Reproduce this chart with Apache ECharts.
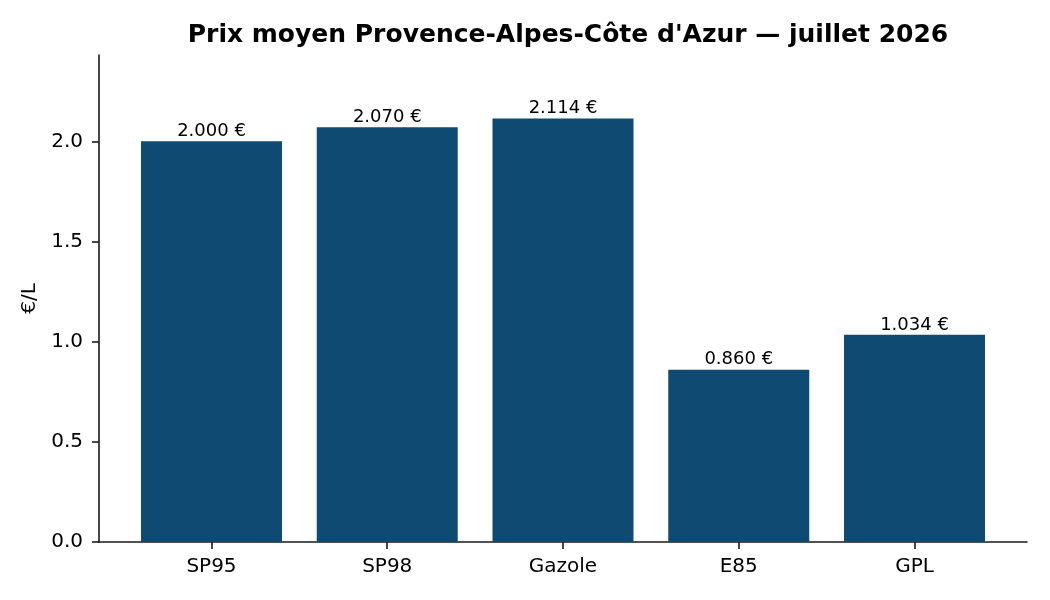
<!DOCTYPE html>
<html><head><meta charset="utf-8">
<script src="https://cdn.jsdelivr.net/npm/echarts@6/dist/echarts.min.js"></script>
<style>html,body{margin:0;padding:0;background:#fff}#c{width:1050px;height:600px}</style>
</head><body><div id="c"></div>
<script>
const categories = ["SP95", "SP98", "Gazole", "E85", "GPL"];
const prices = [2.000, 2.070, 2.114, 0.860, 1.034];
const yTicks = [0, 0.5, 1.0, 1.5, 2.0];
const titleText = "Prix moyen Provence-Alpes-Côte d'Azur — juillet 2026";

const F = "DejaVu Sans";
const chart = echarts.init(document.getElementById('c'));
chart.setOption({
  animation: false,
  backgroundColor: '#fff',
  title: { text: titleText, left: 563, top: 18, textAlign: 'center',
    textStyle: { fontFamily: F, fontWeight: 'bold', fontSize: 25, color: '#000' } },
  grid: { left: 99, right: 23, top: 55, bottom: 58 },
  xAxis: {
    type: 'value', min: -0.64, max: 4.64,
    splitLine: { show: false },
    axisLine: { show: true, onZero: false, lineStyle: { color: '#1a1a1a', width: 1.6 } },
    axisTick: { show: true, customValues: categories.map((c, i) => i), length: 7, lineStyle: { color: '#1a1a1a', width: 1.6 } },
    axisLabel: { customValues: categories.map((c, i) => i), formatter: v => categories[Math.round(v)],
      fontFamily: F, fontSize: 20, color: '#000', margin: 15 }
  },
  yAxis: {
    type: 'value', min: 0, max: 2.431,
    name: '€/L', nameLocation: 'middle', nameGap: 57, nameRotate: 90,
    nameTextStyle: { fontFamily: F, fontSize: 20, color: '#000' },
    splitLine: { show: false },
    axisLine: { show: true, onZero: false, lineStyle: { color: '#1a1a1a', width: 1.6 } },
    axisTick: { show: true, customValues: yTicks, length: 7, lineStyle: { color: '#1a1a1a', width: 1.6 } },
    axisLabel: { customValues: yTicks, formatter: v => v.toFixed(1),
      fontFamily: F, fontSize: 20, color: '#000', margin: 16 }
  },
  series: [{
    type: 'bar',
    data: prices.map((v, i) => [i, v]),
    barWidth: 141,
    itemStyle: { color: '#0f4a73' },
    label: { show: true, position: 'top', distance: 1,
      formatter: p => p.value[1].toFixed(3) + ' €',
      fontFamily: F, fontSize: 18, color: '#000' }
  }]
});
</script></body></html>
